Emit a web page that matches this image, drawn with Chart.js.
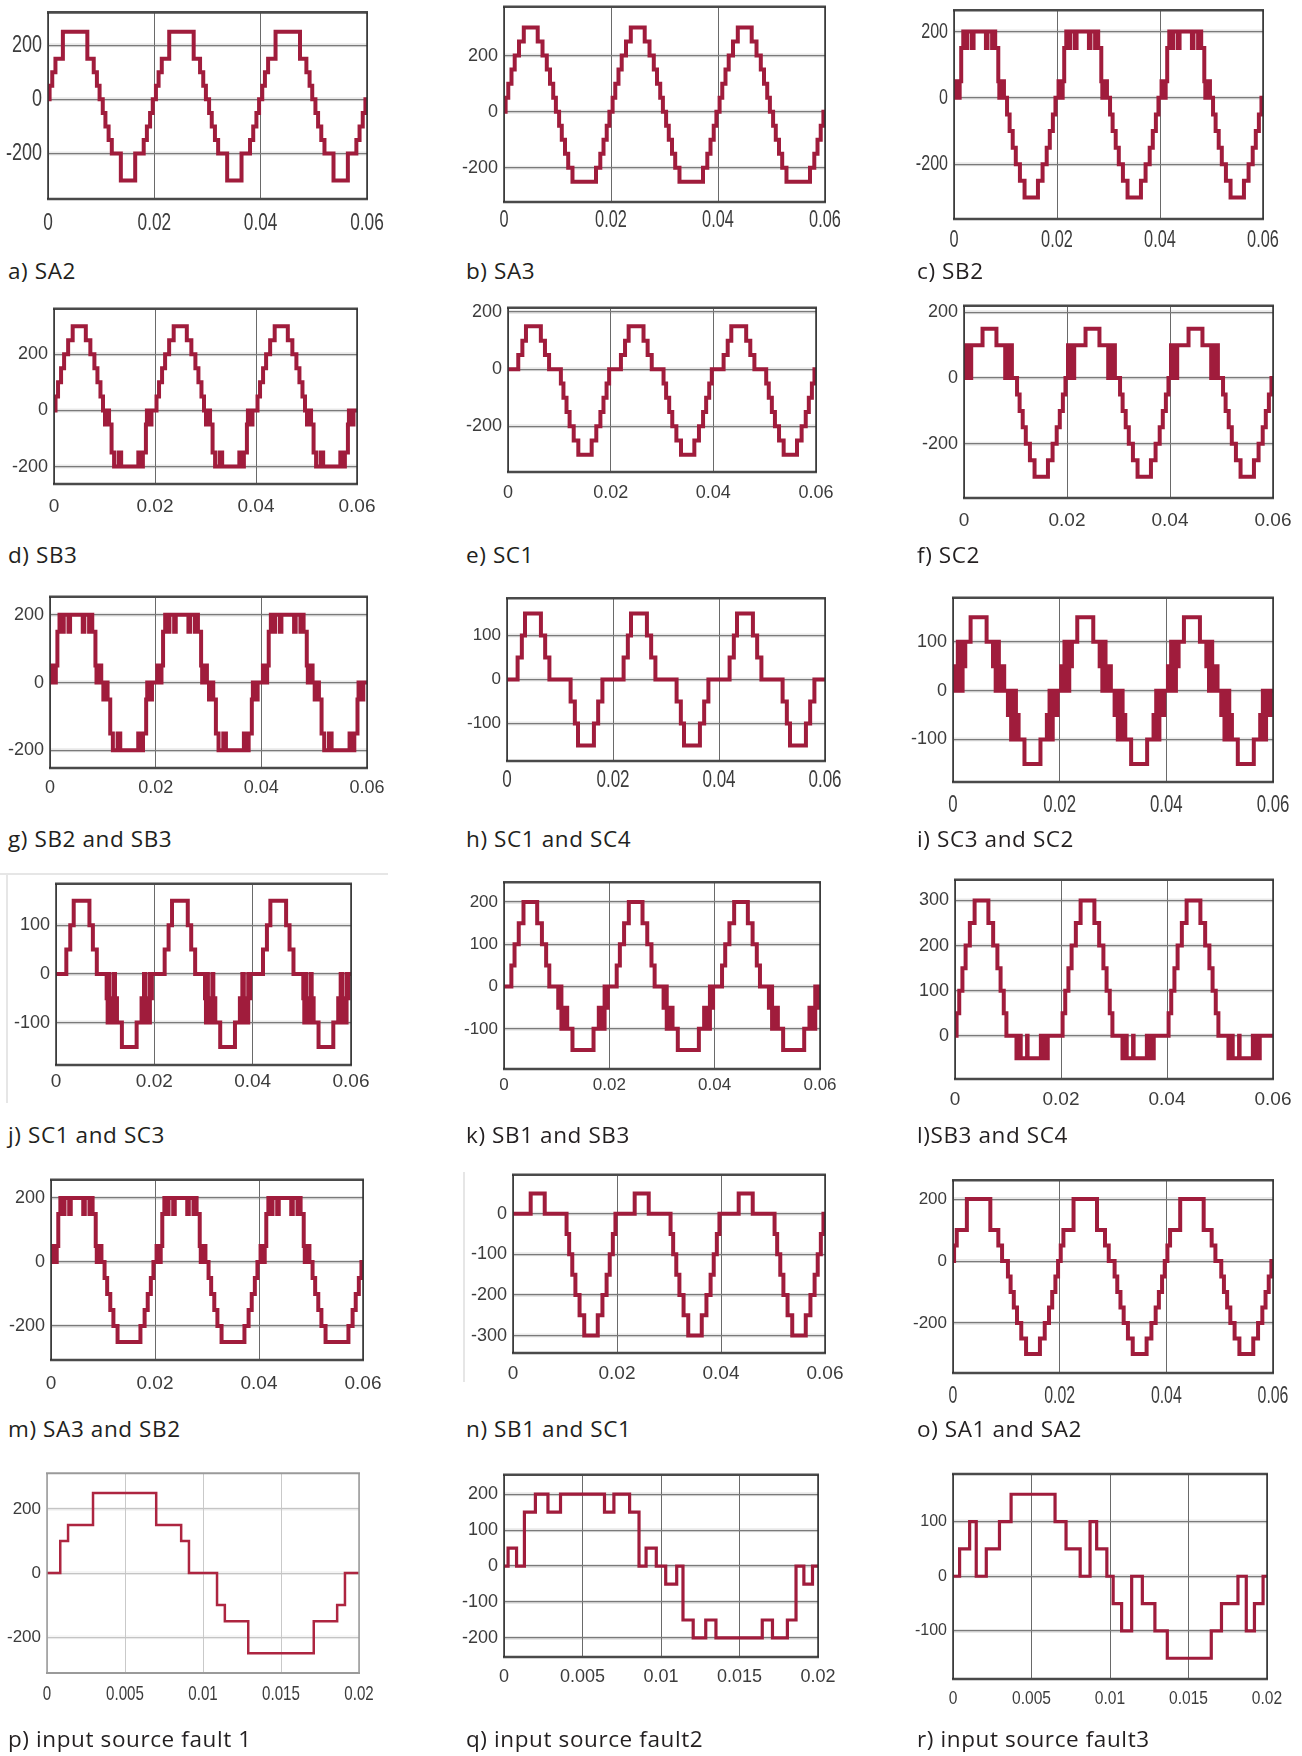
<!DOCTYPE html>
<html>
<head>
<meta charset="utf-8">
<script src="https://cdn.jsdelivr.net/npm/chart.js@4.4.1/dist/chart.umd.min.js"></script>
<style>
  body { margin: 0; background: #fff; width: 1302px; height: 1756px; position: relative; overflow: hidden; }
  canvas { position: absolute; }
  .cap { position: absolute; font-family: 'Open Sans', 'Noto Sans', sans-serif; font-size: 22.5px; letter-spacing: 0.6px; line-height: 1; color: #231f20; white-space: nowrap; }
  .faint { position: absolute; background: #e6e6e6; }
</style>
</head>
<body>
<script>
// one period of every waveform: [time in ms, level in V], level holds until the next time
const sa2 = [[0,0],[0.3,50],[0.8,100],[1.4,150],[2.8,250],[7.4,150],[8.6,100],[9.2,50],[9.7,0],[10.3,-50],[10.8,-100],[11.4,-150],[12.0,-200],[13.7,-300],[16.4,-200],[18.0,-150],[18.6,-100],[19.2,-50],[19.7,0]];
const sa3 = [[0,0],[0.3,50],[0.8,100],[1.4,150],[2.0,200],[2.8,250],[3.7,300],[6.3,250],[7.2,200],[8.0,150],[8.6,100],[9.2,50],[9.7,0],[10.3,-50],[10.8,-100],[11.4,-150],[12.0,-200],[12.8,-250],[17.2,-200],[18.0,-150],[18.6,-100],[19.2,-50],[19.7,0]];
const sb2 = [[0,0],[0.3,50],[0.5,0],[0.7,50],[0.9,0],[1.1,50],[1.4,150],[1.8,200],[2.3,150],[2.6,200],[3.5,150],[3.8,200],[6.2,150],[6.5,200],[7.4,150],[7.7,200],[8.0,150],[8.6,50],[8.8,0],[9.0,50],[9.2,0],[9.4,50],[9.7,0],[10.3,-50],[10.8,-100],[11.4,-150],[12.0,-200],[12.8,-250],[13.7,-300],[16.3,-250],[17.2,-200],[18.0,-150],[18.6,-100],[19.2,-50],[19.7,0]];
const sb3 = [[0,0],[0.3,50],[0.8,100],[1.4,150],[2.0,200],[2.8,250],[3.7,300],[6.3,250],[7.2,200],[8.0,150],[8.6,100],[9.2,50],[9.7,0],[10.1,-50],[10.3,0],[10.5,-50],[10.7,0],[10.9,-50],[11.4,-150],[11.9,-200],[12.8,-150],[13.3,-200],[16.7,-150],[17.2,-200],[17.6,-150],[18.2,-50],[18.4,0],[18.6,-50],[18.8,0],[19.0,-50],[19.3,0]];
const sc1 = [[0,0],[2.0,50],[2.8,100],[3.5,150],[6.4,100],[7.2,50],[8.0,0],[10.3,-50],[10.8,-100],[11.4,-150],[12.0,-200],[12.8,-250],[13.7,-300],[16.3,-250],[17.2,-200],[18.0,-150],[18.6,-100],[19.2,-50],[19.7,0]];
const sc2 = [[0,0],[0.2,100],[0.4,0],[0.6,100],[0.8,0],[1.0,100],[1.2,0],[1.4,100],[3.6,150],[6.3,100],[8.0,0],[8.2,100],[8.4,0],[8.6,100],[8.8,0],[9.0,100],[9.3,0],[10.3,-50],[10.8,-100],[11.4,-150],[12.0,-200],[12.8,-250],[13.7,-300],[16.3,-250],[17.2,-200],[18.0,-150],[18.6,-100],[19.2,-50],[19.7,0]];
const sb2sb3 = [[0,0],[0.3,50],[0.5,0],[0.7,50],[0.9,0],[1.1,50],[1.4,150],[1.8,200],[2.3,150],[2.6,200],[3.5,150],[3.8,200],[6.2,150],[6.5,200],[7.4,150],[7.7,200],[8.0,150],[8.6,50],[8.8,0],[9.0,50],[9.2,0],[9.4,50],[9.7,0],[10.1,-50],[10.3,0],[10.5,-50],[10.7,0],[10.9,-50],[11.4,-150],[11.9,-200],[12.8,-150],[13.3,-200],[16.7,-150],[17.2,-200],[17.6,-150],[18.2,-50],[18.4,0],[18.6,-50],[18.8,0],[19.0,-50],[19.3,0]];
const sc1sc4 = [[0,0],[2.0,50],[2.8,100],[3.4,150],[6.4,100],[7.2,50],[8.0,0],[12.0,-50],[12.8,-100],[13.4,-150],[16.4,-100],[17.2,-50],[18.0,0]];
const sc3sc2 = [[0,0],[0.3,50],[0.6,0],[0.9,100],[1.2,50],[1.5,0],[1.8,100],[2.1,50],[2.3,100],[3.3,150],[6.3,100],[7.5,50],[7.7,100],[8.0,0],[8.3,100],[8.6,50],[8.9,0],[9.2,50],[9.6,0],[10.3,-50],[10.6,0],[10.9,-100],[11.2,-50],[11.5,0],[11.8,-100],[12.1,-50],[12.3,-100],[13.4,-150],[16.4,-100],[17.6,-50],[17.8,-100],[18.1,0],[18.4,-100],[18.7,-50],[19.0,0],[19.3,-50],[19.6,0]];
const sc1sc3 = [[0,0],[2.1,50],[2.9,100],[3.6,150],[6.8,100],[7.5,50],[8.3,0],[10.3,-50],[10.5,-100],[10.7,0],[10.9,-100],[11.2,-50],[11.5,-100],[11.8,0],[12.0,-100],[12.2,-50],[12.4,-100],[13.4,-150],[16.4,-100],[17.4,-50],[17.6,-100],[17.9,0],[18.2,-100],[18.5,-50],[18.8,-100],[19.1,0],[19.3,-50],[19.5,0]];
const sb1sb3 = [[0,0],[1.4,50],[2.0,100],[2.8,150],[3.7,200],[6.3,150],[7.2,100],[8.0,50],[8.6,0],[10.3,-50],[10.6,0],[10.9,-100],[11.2,-50],[11.5,-100],[11.8,-50],[12.0,-100],[13.0,-150],[17.0,-100],[18.0,-50],[18.2,-100],[18.5,-50],[18.8,-100],[19.1,0],[19.4,-50],[19.7,0]];
const sb3sc4 = [[0,0],[0.3,50],[0.8,100],[1.4,150],[2.0,200],[2.8,250],[3.7,300],[6.3,250],[7.2,200],[8.0,150],[8.6,100],[9.2,50],[9.7,0],[11.6,-50],[11.8,0],[12.0,-50],[12.2,0],[12.4,-50],[13.6,0],[13.7,-50],[16.2,0],[16.3,-50],[16.6,0],[16.8,-50],[17.0,0],[17.2,-50],[17.5,0]];
const sa3sb2 = [[0,0],[0.3,50],[0.5,0],[0.7,50],[0.9,0],[1.1,50],[1.4,150],[1.8,200],[2.3,150],[2.6,200],[3.5,150],[3.8,200],[6.2,150],[6.5,200],[7.4,150],[7.7,200],[8.0,150],[8.6,50],[8.8,0],[9.0,50],[9.2,0],[9.4,50],[9.7,0],[10.3,-50],[10.8,-100],[11.4,-150],[12.0,-200],[12.8,-250],[17.2,-200],[18.0,-150],[18.6,-100],[19.2,-50],[19.7,0]];
const sb1sc1 = [[0,0],[3.4,50],[6.1,0],[10.3,-50],[10.8,-100],[11.4,-150],[12.0,-200],[12.8,-250],[13.7,-300],[16.3,-250],[17.2,-200],[18.0,-150],[18.6,-100],[19.2,-50],[19.7,0]];
const sa1sa2 = [[0,0],[0.2,50],[0.7,100],[2.6,200],[7.0,100],[8.5,50],[9.2,0],[10.3,-50],[10.8,-100],[11.4,-150],[12.0,-200],[12.8,-250],[13.7,-300],[16.3,-250],[17.2,-200],[18.0,-150],[18.6,-100],[19.2,-50],[19.7,0]];
const fault1 = [[0,0],[0.85,100],[1.35,150],[2.95,250],[7.0,150],[8.6,100],[9.1,0],[10.9,-100],[11.4,-150],[12.9,-250],[17.1,-150],[18.6,-100],[19.1,0]];
const fault2 = [[0,0],[0.26,50],[0.8,0],[1.3,150],[2.0,200],[2.8,150],[3.6,200],[6.4,150],[7.0,200],[8.0,150],[8.6,0],[9.05,50],[9.7,0],[10.3,-50],[11.0,0],[11.4,-150],[12.05,-200],[12.85,-150],[13.5,-200],[16.45,-150],[17.1,-200],[18.05,-150],[18.6,0],[19.1,-50],[19.65,0]];
const fault3 = [[0,0],[0.42,50],[1.06,100],[1.48,0],[2.12,50],[2.96,100],[3.7,150],[6.5,100],[7.2,50],[8.1,0],[8.73,100],[9.15,50],[9.8,0],[10.2,-50],[10.74,-100],[11.38,0],[12.06,-50],[12.86,-100],[13.65,-150],[16.45,-100],[17.1,-50],[18.15,0],[18.68,-100],[19.2,-50],[19.75,0]];

const captions = ['a) SA2', 'b) SA3', 'c) SB2', 'd) SB3', 'e) SC1', 'f) SC2',
  'g) SB2 and SB3', 'h) SC1 and SC4', 'i) SC3 and SC2', 'j) SC1 and SC3', 'k) SB1 and SB3', 'l)SB3 and SC4',
  'm) SA3 and SB2', 'n) SB1 and SC1', 'o) SA1 and SA2', 'p) input source fault 1', 'q) input source fault2', 'r) input source fault3'];

const ticks200 = [-200, 0, 200];
const ticks100 = [-100, 0, 100];
const ticksK = [-100, 0, 100, 200];
const ticksL = [0, 100, 200, 300];
const ticksN = [-300, -200, -100, 0];
const ticksQ = [-200, -100, 0, 100, 200];
const xTicksLong = [0, 0.02, 0.04, 0.06];
const xTicksShort = [0, 0.005, 0.01, 0.015, 0.02];

// layout: plot box [left, top, right, bottom] in page px, y limits, label centre line,
// font sizes, and a horizontal squeeze for the labels that look condensed in the source
const panels = [
  { s: sa2, n: 3, yt: ticks200, box: [48, 8, 367, 199], yMin: -368, yMax: 321, xLab: 223, yf: 24, xf: 24, ySq: 0.75, xSq: 0.72 },
  { s: sa3, n: 3, yt: ticks200, box: [504, 6, 825, 202], yMin: -322, yMax: 374, xLab: 220, yf: 18, xf: 24, xSq: 0.68 },
  { s: sb2, n: 3, yt: ticks200, box: [954, 7, 1263, 219], yMin: -365, yMax: 264, xLab: 240, yf: 22, xf: 24, ySq: 0.73, xSq: 0.68 },
  { s: sb3, n: 3, yt: ticks200, box: [54, 308, 357, 484], yMin: -262, yMax: 362, xLab: 507, yf: 18, xf: 19 },
  { s: sc1, n: 3, yt: ticks200, box: [508, 307, 816, 472], yMin: -360, yMax: 215, xLab: 493, yf: 18, xf: 18 },
  { s: sc2, n: 3, yt: ticks200, box: [964, 305, 1273, 498], yMin: -365, yMax: 220, xLab: 521, yf: 18, xf: 19 },
  { s: sb2sb3, n: 3, yt: ticks200, box: [50, 596, 367, 768], yMin: -252, yMax: 253, xLab: 788, yf: 18, xf: 18 },
  { s: sc1sc4, n: 3, yt: ticks100, box: [507, 598, 825, 761], yMin: -185, yMax: 185, xLab: 781, yf: 17, xf: 23, xSq: 0.74 },
  { s: sc3sc2, n: 3, yt: ticks100, box: [953, 597, 1273, 782], yMin: -187, yMax: 190, xLab: 805, yf: 18, xf: 24, xSq: 0.7 },
  { s: sc1sc3, n: 3, yt: ticks100, box: [56, 883, 351, 1065], yMin: -187, yMax: 185, xLab: 1082, yf: 18, xf: 19 },
  { s: sb1sb3, n: 3, yt: ticksK, box: [504, 882, 820, 1069], yMin: -195, yMax: 247, xLab: 1085, yf: 17, xf: 17 },
  { s: sb3sc4, n: 3, yt: ticksL, box: [955, 879, 1273, 1079], yMin: -96, yMax: 346, xLab: 1100, yf: 18, xf: 19 },
  { s: sa3sb2, n: 3, yt: ticks200, box: [51, 1179, 363, 1360], yMin: -306, yMax: 257, xLab: 1384, yf: 18, xf: 19 },
  { s: sb1sc1, n: 3, yt: ticksN, box: [513, 1174, 825, 1353], yMin: -343, yMax: 96, xLab: 1374, yf: 18, xf: 19 },
  { s: sa1sa2, n: 3, yt: ticks200, box: [953, 1180, 1273, 1373], yMin: -361, yMax: 261, xLab: 1397, yf: 17, xf: 23, xSq: 0.69 },
  { s: fault1, n: 1, yt: ticks200, box: [47, 1473, 359, 1673], yMin: -312, yMax: 312, xLab: 1694, yf: 17, xf: 21, xSq: 0.72, light: true, lw: 2.5 },
  { s: fault2, n: 1, yt: ticksQ, box: [504, 1474, 818, 1657], yMin: -253, yMax: 254, xLab: 1677, yf: 18, xf: 18, lw: 3.2 },
  { s: fault3, n: 1, yt: ticks100, box: [953, 1474, 1267, 1679], yMin: -188, yMax: 187, xLab: 1699, yf: 16, xf: 19, xSq: 0.82, lw: 3.2 }
];
const capX = [8, 466, 917];
const capY = [272, 556, 840, 1136, 1430, 1740];

const W = 70, T = 16, R = 34, H = 52;
const tickFont = "'Liberation Sans', Arial, sans-serif";
const tickColor = '#3c3c3c';
const fmt = v => String(+v.toFixed(4));

// frame round the plot and a soft band under the horizontal grid lines
const framePlugin = {
  id: 'frame',
  beforeDraw(chart, args, o) {
    const { ctx, chartArea: a, scales } = chart;
    ctx.save();
    ctx.strokeStyle = o.halo;
    ctx.lineWidth = 4;
    scales.y.ticks.forEach(tk => {
      const y = scales.y.getPixelForValue(tk.value);
      ctx.beginPath(); ctx.moveTo(a.left, y); ctx.lineTo(a.right, y); ctx.stroke();
    });
    ctx.restore();
  },
  afterDatasetsDraw(chart, args, o) {
    const { ctx, chartArea: a } = chart;
    ctx.save();
    ctx.strokeStyle = o.edge;
    ctx.lineWidth = o.edgeWidth;
    [a.top, a.bottom].forEach(y => {
      ctx.beginPath(); ctx.moveTo(a.left - 1, y); ctx.lineTo(a.right + 1, y); ctx.stroke();
    });
    ctx.strokeStyle = o.side;
    ctx.lineWidth = 1.5;
    [a.left, a.right].forEach(x => {
      ctx.beginPath(); ctx.moveTo(x, a.top); ctx.lineTo(x, a.bottom); ctx.stroke();
    });
    ctx.restore();
  }
};

// condensed tick labels: same scale positions, text squeezed horizontally
const squeezePlugin = {
  id: 'squeeze',
  afterDraw(chart, args, o) {
    const { ctx, chartArea: a, scales } = chart;
    ctx.save();
    ctx.fillStyle = tickColor;
    ctx.textBaseline = 'middle';
    if (o.y) {
      ctx.font = o.y.size + 'px ' + tickFont;
      ctx.textAlign = 'right';
      scales.y.ticks.forEach(tk => {
        ctx.save();
        ctx.translate(a.left - 6, scales.y.getPixelForValue(tk.value));
        ctx.scale(o.y.k, 1);
        ctx.fillText(fmt(tk.value), 0, 0);
        ctx.restore();
      });
    }
    if (o.x) {
      ctx.font = o.x.size + 'px ' + tickFont;
      ctx.textAlign = 'center';
      scales.x.ticks.forEach(tk => {
        ctx.save();
        ctx.translate(scales.x.getPixelForValue(tk.value), a.bottom + o.x.dy);
        ctx.scale(o.x.k, 1);
        ctx.fillText(fmt(tk.value), 0, 0);
        ctx.restore();
      });
    }
    ctx.restore();
  }
};

function tile(steps, periods) {
  const pts = [];
  for (let k = 0; k < periods; k++) {
    steps.forEach(([t, v]) => pts.push({ x: (t + k * 20) / 1000, y: v }));
  }
  pts.push({ x: periods * 20 / 1000, y: steps[steps.length - 1][1] });
  return pts;
}

panels.forEach((p, i) => {
  const [l, t, r, b] = p.box;
  const cv = document.createElement('canvas');
  cv.width = W + (r - l) + R;
  cv.height = T + (b - t) + H;
  cv.style.left = (l - W) + 'px';
  cv.style.top = (t - T) + 'px';
  document.body.appendChild(cv);

  const xTicks = p.n === 3 ? xTicksLong : xTicksShort;
  const gridX = p.light ? '#c9c9c9' : '#6a6a6a';
  const gridY = p.light ? '#c4c4c4' : '#7a7a7a';

  new Chart(cv, {
    type: 'line',
    data: {
      datasets: [{
        data: tile(p.s, p.n),
        stepped: 'before',
        borderColor: p.light ? '#ad2540' : '#a01c3c',
        borderWidth: p.lw || 4,
        pointRadius: 0,
        fill: false
      }]
    },
    options: {
      responsive: false,
      animation: false,
      events: [],
      layout: { padding: { left: 0, top: T, right: R, bottom: 0 } },
      plugins: {
        legend: { display: false },
        tooltip: { enabled: false },
        frame: {
          halo: p.light ? 'rgba(0,0,0,0.04)' : 'rgba(0,0,0,0.09)',
          edge: p.light ? '#9a9a9a' : '#4a4a4a',
          edgeWidth: p.light ? 2 : 2.6,
          side: p.light ? '#9a9a9a' : '#2e2e2e'
        },
        squeeze: {
          y: p.ySq ? { size: p.yf, k: p.ySq } : null,
          x: p.xSq ? { size: p.xf, k: p.xSq, dy: p.xLab - b } : null
        }
      },
      scales: {
        x: {
          type: 'linear',
          min: 0,
          max: xTicks[xTicks.length - 1],
          afterBuildTicks: s => { s.ticks = xTicks.map(v => ({ value: v })); },
          afterFit: s => { s.height = H; },
          grid: { color: gridX, lineWidth: 1, drawTicks: false },
          border: { display: false },
          ticks: {
            autoSkip: false, maxRotation: 0,
            padding: p.xLab - b - 0.6 * p.xf,
            color: p.xSq ? 'rgba(0,0,0,0)' : tickColor,
            font: { family: tickFont, size: p.xf },
            callback: v => fmt(v)
          }
        },
        y: {
          min: p.yMin,
          max: p.yMax,
          afterBuildTicks: s => { s.ticks = p.yt.map(v => ({ value: v })); },
          afterFit: s => { s.width = W; },
          grid: { color: gridY, lineWidth: 1.2, drawTicks: false },
          border: { display: false },
          ticks: {
            padding: 6,
            color: p.ySq ? 'rgba(0,0,0,0)' : tickColor,
            font: { family: tickFont, size: p.yf },
            callback: v => fmt(v)
          }
        }
      }
    },
    plugins: [framePlugin, squeezePlugin]
  });

  const cap = document.createElement('div');
  cap.className = 'cap';
  cap.textContent = captions[i];
  cap.style.left = capX[i % 3] + 'px';
  cap.style.top = (capY[Math.floor(i / 3)] - 12) + 'px';
  document.body.appendChild(cap);
});

// faint scan edges left over in the source figure
[[0, 873, 388, 2], [6, 873, 2, 230], [463, 1172, 2, 210]].forEach(([x, y, w, h]) => {
  const d = document.createElement('div');
  d.className = 'faint';
  d.style.left = x + 'px'; d.style.top = y + 'px';
  d.style.width = w + 'px'; d.style.height = h + 'px';
  document.body.appendChild(d);
});
</script>
</body>
</html>
